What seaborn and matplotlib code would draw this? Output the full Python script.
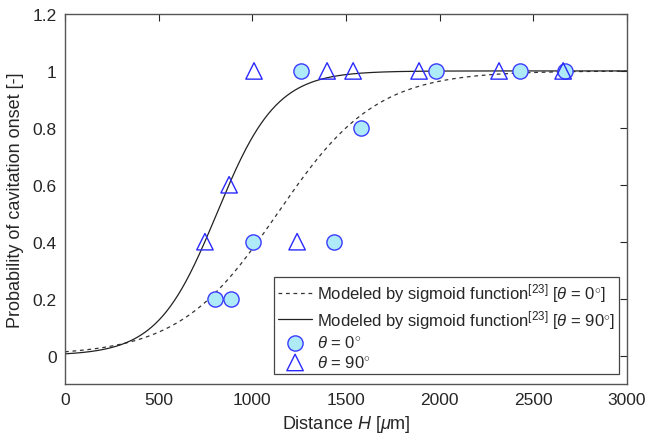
import numpy as np
import pandas as pd
import matplotlib
matplotlib.use("Agg")
import matplotlib.pyplot as plt
import seaborn as sns

# --- data ---
h_theta0 = [801, 886, 1004, 1260, 1436, 1580, 1981, 2429, 2669]
p_theta0 = [0.2, 0.2, 0.4, 1.0, 0.4, 0.8, 1.0, 1.0, 1.0]
h_theta90 = [747, 876, 1009, 1239, 1399, 1538, 1890, 2317, 2659]
p_theta90 = [0.4, 0.6, 1.0, 0.4, 1.0, 1.0, 1.0, 1.0, 1.0]
# sigmoid model parameters (midpoint, slope)
sig0_mid, sig0_k = 1135.0, 0.0038
sig90_mid, sig90_k = 811.0, 0.0063
x_ticks = [0, 500, 1000, 1500, 2000, 2500, 3000]
y_ticks = [0, 0.2, 0.4, 0.6, 0.8, 1.0, 1.2]
y_ticklabels = ["0", "0.2", "0.4", "0.6", "0.8", "1", "1.2"]

sns.set_theme(style="white")
plt.rcParams["font.family"] = ["Liberation Sans", "DejaVu Sans"]
plt.rcParams["mathtext.fontset"] = "custom"
plt.rcParams["mathtext.rm"] = "Liberation Sans"
plt.rcParams["mathtext.it"] = "Liberation Sans:italic"
plt.rcParams["mathtext.bf"] = "Liberation Sans:bold"

xs = np.linspace(0, 3000, 601)
curves = pd.DataFrame({
    "H": np.concatenate([xs, xs]),
    "p": np.concatenate([1 / (1 + np.exp(-sig0_k * (xs - sig0_mid))),
                         1 / (1 + np.exp(-sig90_k * (xs - sig90_mid)))]),
    "model": ["m0"] * len(xs) + ["m90"] * len(xs),
})
pts0 = pd.DataFrame({"H": h_theta0, "p": p_theta0})
pts90 = pd.DataFrame({"H": h_theta90, "p": p_theta90})

fig = plt.figure(figsize=(6.61, 4.39), dpi=100)
ax = fig.add_axes([65 / 661, 1 - 385 / 439, (627 - 65) / 661, (385 - 15) / 439])

sns.lineplot(data=curves[curves.model == "m0"], x="H", y="p", ax=ax,
             color="#333333", lw=0.9, linestyle=(0, (3, 3)),
             label=r"Modeled by sigmoid function$^{[23]}$ [$\theta$ = 0$^{\circ}$]")
sns.lineplot(data=curves[curves.model == "m90"], x="H", y="p", ax=ax,
             color="#222222", lw=0.9,
             label=r"Modeled by sigmoid function$^{[23]}$ [$\theta$ = 90$^{\circ}$]")
sns.scatterplot(data=pts0, x="H", y="p", ax=ax, marker="o", s=120,
                facecolor="#aeeaf8", edgecolor="#3b3bff", linewidth=1.0,
                label=r"$\theta$ = 0$^{\circ}$", zorder=3)
sns.scatterplot(data=pts90, x="H", y="p", ax=ax, marker="^", s=140,
                facecolor="none", edgecolor="#2a2aff", linewidth=1.0,
                label=r"$\theta$ = 90$^{\circ}$", zorder=4)

ax.set_xlim(0, 3000)
ax.set_ylim(-0.1, 1.2)
ax.set_xticks(x_ticks)
ax.set_yticks(y_ticks)
ax.set_yticklabels(y_ticklabels)
ax.tick_params(direction="in", length=5, width=0.8, top=True, right=True,
               labelsize=12.5, colors="#262626", pad=6)
for s in ax.spines.values():
    s.set_color("#555555")
    s.set_linewidth(1.0)
ax.set_xlabel(r"Distance $H$ [$\mu$m]", fontsize=13, color="#262626", labelpad=4)
ax.set_ylabel("Probability of cavitation onset [-]", fontsize=13, color="#262626", labelpad=6)

leg = ax.legend(loc="lower right", bbox_to_anchor=(0.986, 0.027), fontsize=12,
                frameon=True, fancybox=False, framealpha=1, edgecolor="#444444",
                handlelength=2.0, handletextpad=0.3, borderpad=0.25,
                labelspacing=0.22, borderaxespad=0)
leg.get_frame().set_linewidth(0.9)

fig.savefig("out.png", dpi=100)
